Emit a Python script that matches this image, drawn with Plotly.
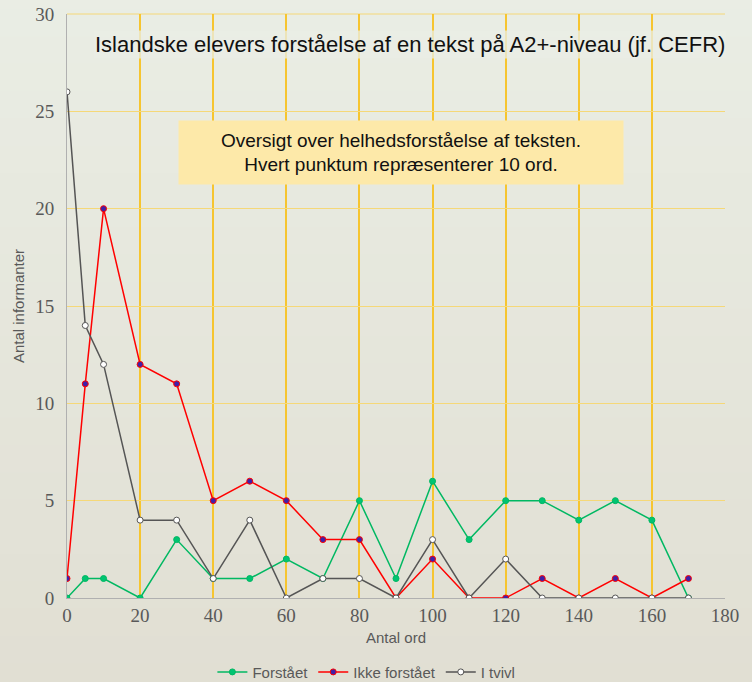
import plotly.graph_objects as go

antal_ord = [0, 5, 10, 20, 30, 40, 50, 60, 70, 80, 90, 100, 110, 120, 130, 140, 150, 160, 170]
forstaaet = [0, 1, 1, 0, 3, 1, 1, 2, 1, 5, 1, 6, 3, 5, 5, 4, 5, 4, 0]
ikke_forstaaet = [1, 11, 20, 12, 11, 5, 6, 5, 3, 3, 0, 2, 0, 0, 1, 0, 1, 0, 1]
i_tvivl = [26, 14, 12, 4, 4, 1, 4, 0, 1, 1, 0, 3, 0, 2, 0, 0, 0, 0, 0]

title_text = "Islandske elevers forståelse af en tekst på A2+-niveau (jf. CEFR)"
box_text = "Oversigt over helhedsforståelse af teksten.<br>Hvert punktum repræsenterer 10 ord."

fig = go.Figure()

fig.add_trace(go.Scatter(
    x=antal_ord, y=forstaaet, name="Forstået", mode="lines+markers",
    line=dict(color="#00b862", width=1.5),
    marker=dict(color="#00c472", size=6, line=dict(color="#00b862", width=1)),
))
fig.add_trace(go.Scatter(
    x=antal_ord, y=ikke_forstaaet, name="Ikke forstået", mode="lines+markers",
    line=dict(color="#ff0000", width=1.5),
    marker=dict(color="#4020a8", size=6, line=dict(color="#ff0000", width=1)),
))
fig.add_trace(go.Scatter(
    x=antal_ord, y=i_tvivl, name="I tvivl", mode="lines+markers",
    line=dict(color="#555555", width=1.5),
    marker=dict(color="#ffffff", size=6, line=dict(color="#555555", width=1)),
))

# background gradient
n = 30
top = (234, 238, 229)
bot = (224, 221, 209)
shapes = []
for i in range(n):
    t = i / (n - 1)
    c = tuple(round(top[k] + (bot[k] - top[k]) * t) for k in range(3))
    shapes.append(dict(type="rect", xref="paper", yref="paper",
                       x0=-0.2, x1=1.2, y0=1.1 - (i + 1) * 1.4 / n, y1=1.1 - i * 1.4 / n + 0.002,
                       fillcolor="rgb(%d,%d,%d)" % c, line=dict(width=0), layer="below"))
# top border gridline
shapes.append(dict(type="line", xref="paper", yref="paper", x0=0, x1=1, y0=1, y1=1,
                   line=dict(color="#f5d878", width=1), layer="below"))

fig.update_layout(
    width=752, height=682,
    margin=dict(l=67, r=27, t=14, b=84, autoexpand=False),
    paper_bgcolor="rgb(229,230,219)",
    plot_bgcolor="rgba(0,0,0,0)",
    shapes=shapes,
    showlegend=True,
    legend=dict(orientation="h", x=0.455, xanchor="center", y=-0.127, yanchor="middle",
                font=dict(family="Arial, Liberation Sans", size=15, color="#595959"),
                bgcolor="rgba(0,0,0,0)", itemwidth=30, tracegroupgap=0),
    xaxis=dict(range=[0, 180], dtick=20, showgrid=True, gridcolor="#f6c530", gridwidth=1.5,
               showline=True, linecolor="#b0b0b0", linewidth=1, zeroline=False, automargin=False,
               ticks="", tickfont=dict(family="Liberation Serif, Times New Roman, serif", size=19, color="#595959"),
               title=dict(text="Antal ord", font=dict(family="Arial, Liberation Sans", size=15, color="#595959"), standoff=7)),
    yaxis=dict(range=[0, 30], dtick=5, showgrid=True, gridcolor="#f5d878", gridwidth=1,
               showline=True, linecolor="#b0b0b0", linewidth=1, zeroline=False, automargin=False,
               ticks="", ticklabelstandoff=8,
               tickfont=dict(family="Liberation Serif, Times New Roman, serif", size=19, color="#595959"),
               title=dict(text="Antal informanter", font=dict(family="Arial, Liberation Sans", size=15, color="#595959"), standoff=6)),
    annotations=[
        dict(text=title_text, xref="paper", yref="paper", x=1.003, y=0.947, xanchor="right", yanchor="middle",
             showarrow=False, font=dict(family="Arial, Liberation Sans", size=22, color="#111111"),
             bgcolor="rgba(234,238,229,0.75)"),
        dict(text=box_text, x=0.5076, y=0.763, xref="paper", yref="paper", xanchor="center", yanchor="middle",
             showarrow=False, font=dict(family="Arial, Liberation Sans", size=19, color="#111111"),
             bgcolor="#fde9a9", width=432, height=51, borderpad=6),
    ],
)

fig.write_html("out.html", config={"displayModeBar": False},
               post_script="document.body.style.margin='0';")
